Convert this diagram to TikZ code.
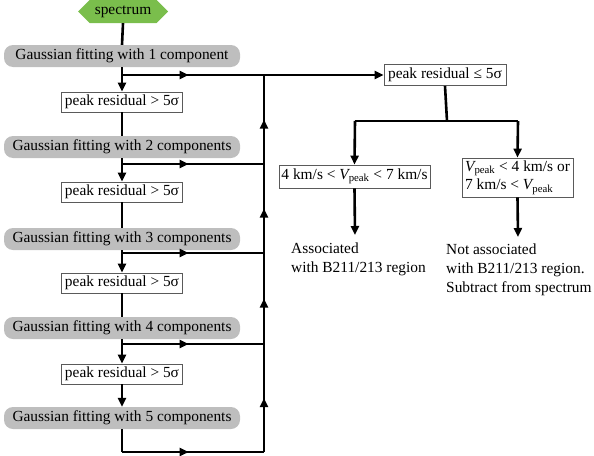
\documentclass[tikz,border=0pt]{standalone}
\usepackage{fontspec}
\setmainfont{Liberation Serif}
\usetikzlibrary{arrows.meta,shapes.symbols,decorations.markings}
\definecolor{specgreen}{RGB}{122,190,76}
\definecolor{boxgray}{RGB}{190,190,190}
\definecolor{edgegray}{RGB}{90,90,90}
\begin{document}
\begin{tikzpicture}[x=1pt,y=-1pt,
  font=\fontsize{15.4}{18.8}\selectfont,
  flow/.style={line width=2.6pt,black},
  tip/.style={-{Triangle[length=9pt,width=8pt]}},
  midarrow/.style={decoration={markings,mark=at position #1 with {\arrow{Triangle[length=9pt,width=8pt]}}},postaction={decorate}},
  midarrow/.default=0.5,
  gbox/.style={fill=boxgray,rounded corners=9pt,minimum width=236pt,minimum height=22pt,inner sep=0pt},
  rbox/.style={draw=edgegray,line width=0.8pt,fill=white,minimum width=121pt,minimum height=20pt,inner sep=1pt},
  cbox/.style={draw=edgegray,line width=0.8pt,fill=white,inner sep=2pt,align=left},
  plain/.style={align=left,inner sep=0pt,anchor=north west}]
\useasboundingbox (0,0) rectangle (594,455);
% nodes
\node[signal,signal to=west and east,signal pointer angle=90,fill=specgreen,minimum width=90pt,minimum height=23pt,inner sep=0pt] (sp) at (123,11.5) {spectrum};
\node[gbox] (g1) at (122,56) {Gaussian fitting with 1 component};
\node[rbox] (r1) at (122,102) {peak residual > 5σ};
\node[gbox] (g2) at (122,147) {Gaussian fitting with 2 components};
\node[rbox] (r2) at (122,192) {peak residual > 5σ};
\node[gbox] (g3) at (122,239) {Gaussian fitting with 3 components};
\node[rbox] (r3) at (122,283) {peak residual > 5σ};
\node[gbox] (g4) at (122,328) {Gaussian fitting with 4 components};
\node[rbox] (r4) at (122,374) {peak residual > 5σ};
\node[gbox] (g5) at (122,418) {Gaussian fitting with 5 components};
\node[rbox,minimum width=122pt,minimum height=21pt] (tr) at (445,75) {peak residual ≤ 5σ};
\node[cbox,minimum width=151pt,minimum height=23pt,align=center] (lb) at (354.5,176.5) {4 km/s < {\itshape V}\textsubscript{peak} < 7 km/s};
\node[cbox,minimum width=111pt,minimum height=39pt] (rb) at (517.5,177.5) {{\itshape V}\textsubscript{peak} < 4 km/s or\\7 km/s < {\itshape V}\textsubscript{peak}};
\node[plain] (la) at (291,243) {Associated\\with B211/213 region};
\node[plain] (ra) at (446,244) {Not associated\\with B211/213 region.\\Subtract from spectrum};
% coordinates
\coordinate (j1) at (122,75);  \coordinate (v1) at (264,75);
\coordinate (j2) at (122,164); \coordinate (v2) at (264,164);
\coordinate (j3) at (122,253); \coordinate (v3) at (264,253);
\coordinate (j4) at (122,344); \coordinate (v4) at (264,344);
\coordinate (j5) at (122,452); \coordinate (v5) at (264,452);
\coordinate (s) at (447,121);
\coordinate (sl) at (355,121);
\coordinate (sr) at (518,121);
\coordinate (le) at (355,235);
\coordinate (re) at (518,237);
% left column
\draw[flow] (sp.south) -- (g1.north);
\draw[flow,tip] (g1.south) -- (r1.north);
\draw[flow] (r1.south) -- (g2.north);
\draw[flow,tip] (g2.south) -- (r2.north);
\draw[flow] (r2.south) -- (g3.north);
\draw[flow,tip] (g3.south) -- (r3.north);
\draw[flow] (r3.south) -- (g4.north);
\draw[flow,tip] (g4.south) -- (r4.north);
\draw[flow,tip] (r4.south) -- (g5.north);
\draw[flow] (g5.south) -- (j5);
% branches
\draw[flow,midarrow=0.47] (j1) -- (v1);
\draw[flow,midarrow=0.47] (j2) -- (v2);
\draw[flow,midarrow=0.47] (j3) -- (v3);
\draw[flow,midarrow=0.47] (j4) -- (v4);
\draw[flow,midarrow=0.47] (j5) -- (v5);
\draw[flow,midarrow] (v5) -- (v4);
\draw[flow,midarrow] (v4) -- (v3);
\draw[flow,midarrow] (v3) -- (v2);
\draw[flow,midarrow] (v2) -- (v1);
\draw[flow,tip] (v1) -- (tr.west);
% right side
\draw[flow] (tr.south) -- (s);
\draw[flow] (sl) -- (sr);
\draw[flow,tip] (sl) -- (lb.north);
\draw[flow,tip] (sr) -- (rb.north);
\draw[flow,tip] (lb.south) -- (le);
\draw[flow,tip] (rb.south) -- (re);
\end{tikzpicture}
\end{document}
